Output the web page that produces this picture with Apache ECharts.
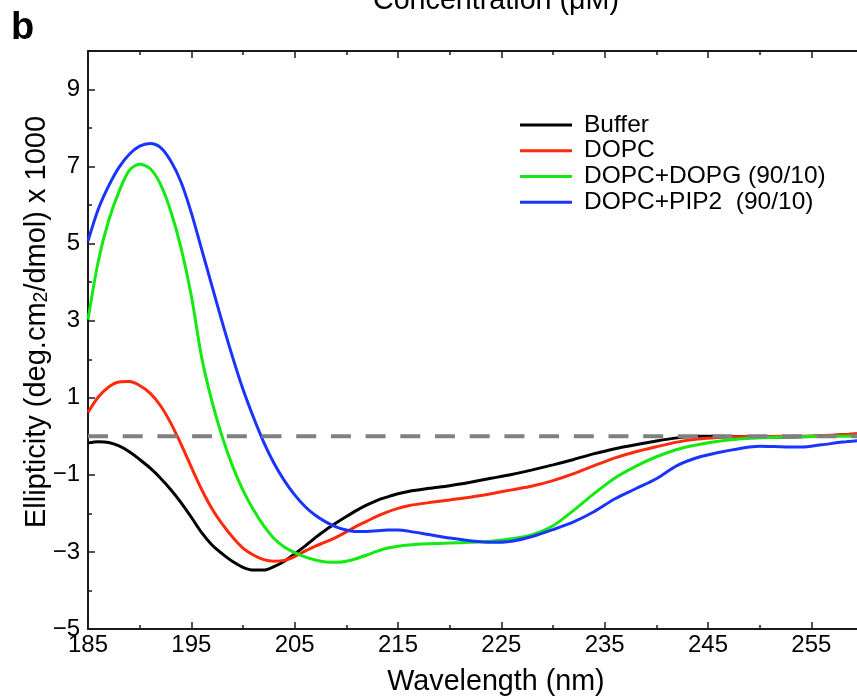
<!DOCTYPE html>
<html><head><meta charset="utf-8">
<script src="https://cdn.jsdelivr.net/npm/echarts@6/dist/echarts.min.js"></script>
<style>html,body{margin:0;padding:0;background:#fff}#c{width:857px;height:700px}</style>
</head><body><div id="c"></div>
<script>
const wavelength = [185,186,187,188,189,190,191,192,193,194,195,196,197,198,199,200,201,202,203,204,205,206,207,208,209,210,211,212,213,214,215,216,
  218,220,222,224,226,228,230,232,234,236,238,240,242,244,246,248,250,252,254,256,258,260];
const buffer = [-0.17,-0.14,-0.16,-0.25,-0.4,-0.6,-0.82,-1.08,-1.38,-1.72,-2.1,-2.5,-2.82,-3.05,-3.25,-3.4,-3.47,-3.47,-3.38,-3.24,-3.05,-2.85,-2.63,-2.43,-2.25,-2.08,-1.92,-1.78,-1.66,-1.57,-1.49,-1.43,
  -1.35,-1.28,-1.19,-1.09,-0.99,-0.87,-0.74,-0.6,-0.45,-0.32,-0.22,-0.12,-0.04,0.0,0.0,-0.01,-0.02,-0.02,-0.01,0.01,0.04,0.07];
const dopc = [0.62,1.02,1.28,1.41,1.42,1.32,1.12,0.8,0.35,-0.2,-0.8,-1.38,-1.88,-2.28,-2.62,-2.9,-3.08,-3.2,-3.24,-3.22,-3.12,-2.98,-2.85,-2.74,-2.62,-2.48,-2.33,-2.2,-2.07,-1.96,-1.87,-1.8,
  -1.72,-1.65,-1.58,-1.49,-1.39,-1.29,-1.15,-0.97,-0.76,-0.56,-0.4,-0.27,-0.15,-0.07,-0.03,-0.01,-0.01,0.0,0.0,0.02,0.04,0.07];
const dopcDopg = [3.03,4.55,5.6,6.35,6.9,7.06,6.95,6.55,5.85,4.9,3.65,2.05,0.9,-0.02,-0.78,-1.4,-1.9,-2.32,-2.65,-2.87,-3.02,-3.13,-3.21,-3.26,-3.27,-3.24,-3.17,-3.08,-2.98,-2.9,-2.85,-2.82,
  -2.79,-2.77,-2.75,-2.72,-2.66,-2.55,-2.32,-1.92,-1.48,-1.08,-0.78,-0.53,-0.34,-0.22,-0.13,-0.07,-0.04,-0.02,-0.01,0.0,0.0,0.01];
const dopcPip2 = [5.07,5.9,6.5,6.98,7.32,7.53,7.6,7.5,7.15,6.6,5.8,4.85,3.9,2.95,2.05,1.22,0.5,-0.15,-0.7,-1.15,-1.52,-1.82,-2.05,-2.22,-2.35,-2.43,-2.47,-2.47,-2.45,-2.43,-2.43,-2.46,
  -2.55,-2.64,-2.71,-2.75,-2.72,-2.6,-2.42,-2.22,-1.95,-1.62,-1.36,-1.1,-0.76,-0.55,-0.42,-0.32,-0.26,-0.27,-0.28,-0.22,-0.15,-0.1];
const zeroLine = [[185,0],[260,0]];
const seriesNames = ['Buffer','DOPC','DOPC+DOPG (90/10)','DOPC+PIP2  (90/10)'];
const seriesColors = ['#000000','#ff2a0c','#12ea12','#1a34ff'];
const xTickLabels = [185,195,205,215,225,235,245,255];
const xMinorTicks = [190,200,210,220,230,240,250,260];
const yTickLabels = [-5,-3,-1,1,3,5,7,9];
const yMinorTicks = [-4,-2,0,2,4,6,8];

const FONT = '"Liberation Sans", Arial, sans-serif';
const X_MIN = 185, X_MAX = 260, Y_MIN = -5, Y_MAX = 10;
const zip = (xs, ys) => xs.map((x, i) => [x, ys[i]]);
const minus = v => (v < 0 ? '\u2212' + Math.abs(v) : String(v));

function xAx(pos, major, labels) {
  return {
    type: 'value', position: pos, min: X_MIN, max: X_MAX,
    axisLine: { show: major, onZero: false, lineStyle: { color: '#1a1a1a', width: 2 } },
    axisTick: { show: true, inside: true, length: major ? 7 : 4,
      customValues: major ? xTickLabels : xMinorTicks, lineStyle: { color: '#1a1a1a', width: 1.5 } },
    axisLabel: labels ? { show: true, customValues: xTickLabels, fontSize: 24, fontFamily: FONT, color: '#000', margin: 4 } : { show: false },
    splitLine: { show: false }
  };
}
function yAx(major, labels) {
  return {
    type: 'value', position: 'left', min: Y_MIN, max: Y_MAX,
    axisLine: { show: major, onZero: false, lineStyle: { color: '#1a1a1a', width: 2 } },
    axisTick: { show: true, inside: true, length: major ? 7 : 4,
      customValues: major ? yTickLabels : yMinorTicks, lineStyle: { color: '#1a1a1a', width: 1.5 } },
    axisLabel: labels ? { show: true, customValues: yTickLabels, fontSize: 24, fontFamily: FONT, color: '#000', margin: 8, formatter: minus } : { show: false },
    splitLine: { show: false }
  };
}

const chart = echarts.init(document.getElementById('c'), null, { renderer: 'canvas' });
const dataSets = [buffer, dopc, dopcDopg, dopcPip2];
const series = dataSets.map((d, i) => ({
  name: seriesNames[i], type: 'line', xAxisIndex: 0, yAxisIndex: 0,
  data: zip(wavelength, d), smooth: 0.3, showSymbol: false, symbol: 'none',
  lineStyle: { color: seriesColors[i], width: 3 }, itemStyle: { color: seriesColors[i] }, z: 2 + i
}));
series.push({
  name: 'zero', type: 'line', data: zeroLine, showSymbol: false, symbol: 'none',
  lineStyle: { color: '#808080', width: 4, type: [20, 14.7] }, z: 10, silent: true
});

chart.setOption({
  animation: false,
  backgroundColor: '#fff',
  grid: { left: 88, top: 51, width: 775, height: 578, containLabel: false, outerBoundsMode: 'none' },
  xAxis: [xAx('bottom', true, true), xAx('bottom', false, false), xAx('top', true, false), xAx('top', false, false)],
  yAxis: [yAx(true, true), yAx(false, false)],
  legend: {
    data: seriesNames, orient: 'vertical', left: 520, top: 112, padding: 0,
    itemWidth: 52, itemHeight: 3, itemGap: 0, icon: 'rect', selectedMode: false,
    textStyle: { fontSize: 24.5, fontFamily: FONT, color: '#000', lineHeight: 25.8, padding: [0, 0, 0, 7] }
  },
  graphic: [
    { type: 'text', left: 11, top: 10, style: { text: 'b', fontSize: 38, fontWeight: 'bold', fontFamily: FONT, fill: '#000' } },
    { type: 'text', x: 496, y: 16, style: { text: 'Concentration (\u03bcM)', fontSize: 28.7, fontFamily: FONT, fill: '#000', align: 'center', verticalAlign: 'bottom' } },
    { type: 'text', x: 496, y: 682, style: { text: 'Wavelength (nm)', fontSize: 28.7, fontFamily: FONT, fill: '#000', align: 'center', verticalAlign: 'middle' } },
    { type: 'text', x: 37, y: 322, rotation: Math.PI / 2,
      style: { text: '{a|Ellipticity (deg.cm}{s|2}{a|/dmol) x 1000}', align: 'center', verticalAlign: 'middle', fill: '#000',
        rich: { a: { fontSize: 29, fontFamily: FONT, lineHeight: 33 }, s: { fontSize: 19.5, fontFamily: FONT, lineHeight: 33, padding: [10, 0, 0, 0] } } } }
  ],
  series: series
});
</script></body></html>
